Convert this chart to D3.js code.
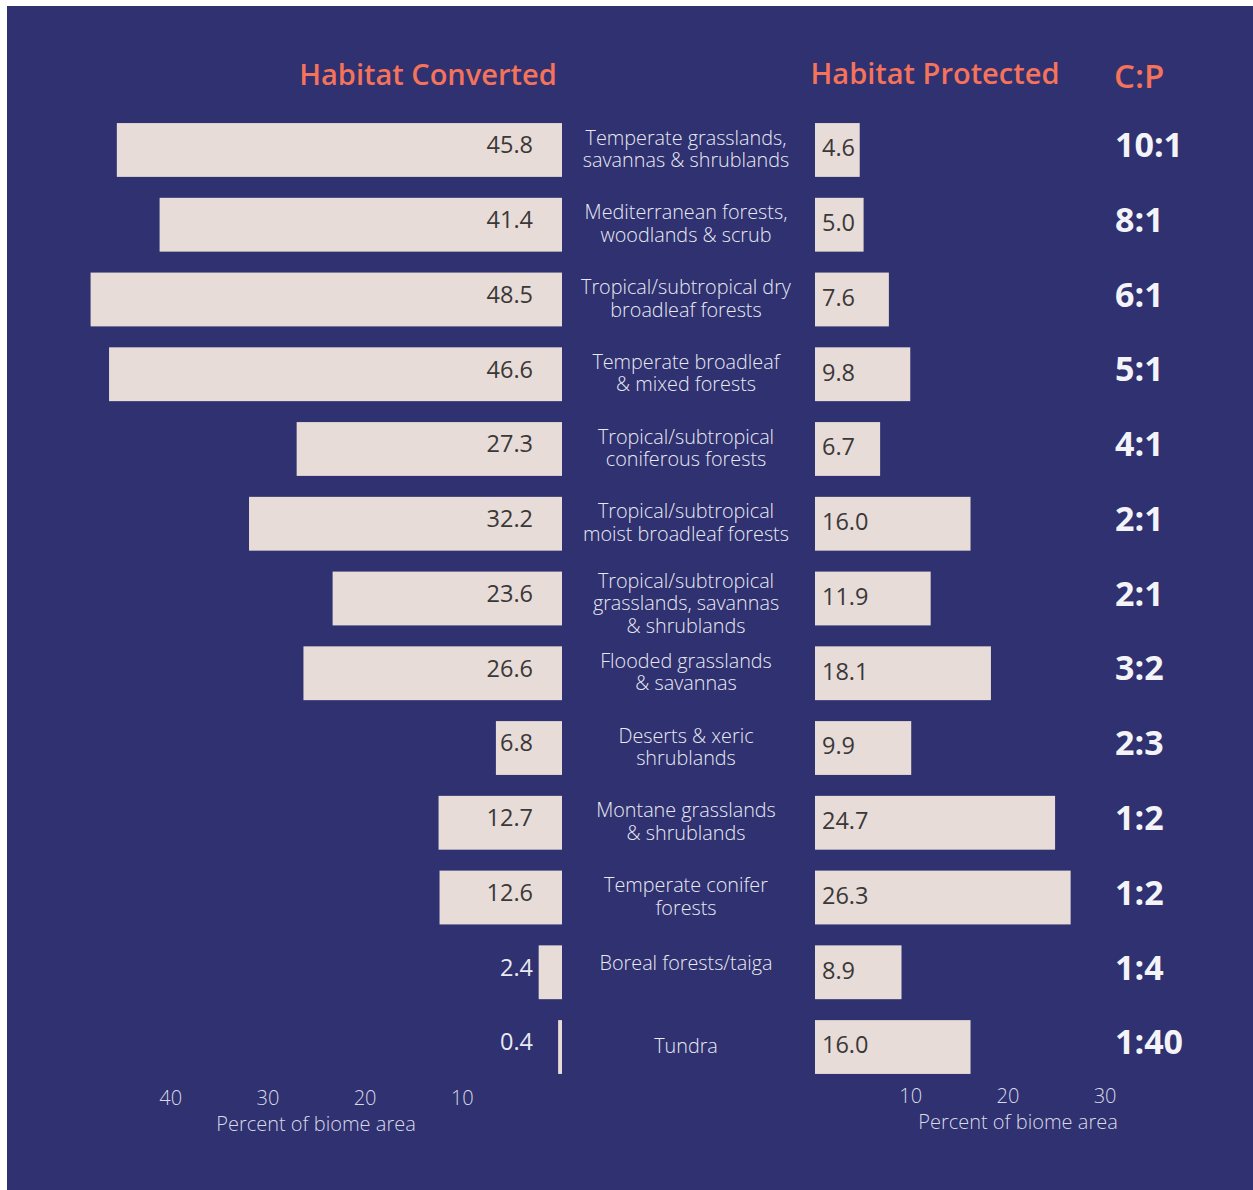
<!DOCTYPE html>
<html>
<head>
<meta charset="utf-8">
<script src="https://cdn.jsdelivr.net/npm/d3@7"></script>
<style>
  html, body { margin: 0; padding: 0; background: #ffffff; }
  svg { display: block; }
</style>
</head>
<body>
<svg id="chart" width="1253" height="1190"></svg>
<script>
// ---- data ----
const biomes = [
  ["Temperate grasslands,", "savannas & shrublands"],
  ["Mediterranean forests,", "woodlands & scrub"],
  ["Tropical/subtropical dry", "broadleaf forests"],
  ["Temperate broadleaf", "& mixed forests"],
  ["Tropical/subtropical", "coniferous forests"],
  ["Tropical/subtropical", "moist broadleaf forests"],
  ["Tropical/subtropical", "grasslands, savannas", "& shrublands"],
  ["Flooded grasslands", "& savannas"],
  ["Deserts & xeric", "shrublands"],
  ["Montane grasslands", "& shrublands"],
  ["Temperate conifer", "forests"],
  ["Boreal forests/taiga"],
  ["Tundra"]
];
const converted = [45.8, 41.4, 48.5, 46.6, 27.3, 32.2, 23.6, 26.6, 6.8, 12.7, 12.6, 2.4, 0.4];
const protectedVals = [4.6, 5.0, 7.6, 9.8, 6.7, 16.0, 11.9, 18.1, 9.9, 24.7, 26.3, 8.9, 16.0];
const ratios = ["10:1", "8:1", "6:1", "5:1", "4:1", "2:1", "2:1", "3:2", "2:3", "1:2", "1:2", "1:4", "1:40"];
const leftTicks = [40, 30, 20, 10];
const rightTicks = [10, 20, 30];
const titleConverted = "Habitat Converted";
const titleProtected = "Habitat Protected";
const titleRatio = "C:P";
const axisLabel = "Percent of biome area";

// ---- styles ----
const BG = "#2f3170";
const BAR = "#e7dcd8";
const DARK = "#3b3838";
const LIGHT = "#e9e9f2";
const TITLE = "#f4735a";
const FONT = "'Open Sans', 'DejaVu Sans', sans-serif";

const svg = d3.select("#chart");
svg.append("rect").attr("x", 7).attr("y", 6).attr("width", 1253 - 7).attr("height", 1190 - 6).attr("fill", BG);

const idx = d3.range(biomes.length);
const y = d3.scaleBand().domain(idx).range([112.6, 1084.4]).paddingInner(0.28).paddingOuter(0.14);

const leftZero = 562, rightZero = 815, pxPerUnit = 9.72;
const xL = d3.scaleLinear().domain([0, 50]).range([leftZero, leftZero - 50 * pxPerUnit]);
const xR = d3.scaleLinear().domain([0, 50]).range([rightZero, rightZero + 50 * pxPerUnit]);

// titles
svg.append("text").attr("x", 428).attr("y", 85).attr("text-anchor", "middle")
  .attr("font-family", FONT).attr("font-weight", 600).attr("font-size", 29).attr("fill", TITLE).text(titleConverted);
svg.append("text").attr("x", 935).attr("y", 84).attr("text-anchor", "middle")
  .attr("font-family", FONT).attr("font-weight", 600).attr("font-size", 29).attr("fill", TITLE).text(titleProtected);
svg.append("text").attr("x", 1114).attr("y", 88).attr("text-anchor", "start")
  .attr("font-family", FONT).attr("font-weight", 600).attr("font-size", 33).attr("fill", TITLE).text(titleRatio);

// left bars
svg.append("g").selectAll("rect").data(idx).join("rect")
  .attr("x", i => xL(converted[i]))
  .attr("y", i => y(i))
  .attr("width", i => Math.max(2.5, xL(0) - xL(converted[i])))
  .attr("height", y.bandwidth())
  .attr("fill", BAR);

// right bars
svg.append("g").selectAll("rect").data(idx).join("rect")
  .attr("x", xR(0))
  .attr("y", i => y(i))
  .attr("width", i => xR(protectedVals[i]) - xR(0))
  .attr("height", y.bandwidth())
  .attr("fill", BAR);

// left values
const lv = svg.append("g").selectAll("text").data(idx).join("text")
  .attr("x", 533)
  .attr("y", i => y(i) + y.bandwidth() / 2 - 5)
  .attr("dy", "0.36em")
  .attr("text-anchor", "end")
  .attr("font-family", FONT).attr("font-size", 23.5)
  .text(i => converted[i].toFixed(1));
lv.each(function(i) {
  const w = this.getComputedTextLength();
  const inside = xL(converted[i]) <= 533 - w;
  d3.select(this).attr("fill", inside ? DARK : LIGHT);
});

// right values
svg.append("g").selectAll("text").data(idx).join("text")
  .attr("x", 822)
  .attr("y", i => y(i) + y.bandwidth() / 2 - 2)
  .attr("dy", "0.36em")
  .attr("text-anchor", "start")
  .attr("font-family", FONT).attr("font-size", 23.5)
  .attr("fill", DARK)
  .text(i => protectedVals[i].toFixed(1));

// category labels
const lineH = 22.5;
const cat = svg.append("g").selectAll("text").data(idx).join("text")
  .attr("text-anchor", "middle")
  .attr("font-family", FONT).attr("font-weight", 300).attr("font-size", 19.8)
  .attr("fill", LIGHT);
cat.each(function(i) {
  const lines = biomes[i];
  const cy = y(i) + y.bandwidth() / 2 + (lines.length === 3 ? 5 : -1) + (lines.length === 1 && i === 11 ? -8 : 0);
  const top = cy - (lines.length - 1) * lineH / 2;
  d3.select(this).selectAll("tspan").data(lines).join("tspan")
    .attr("x", 686)
    .attr("y", (d, k) => top + k * lineH)
    .attr("dy", "0.35em")
    .text(d => d);
});

// ratios
svg.append("g").selectAll("text").data(idx).join("text")
  .attr("x", 1115)
  .attr("y", i => y(i) + y.bandwidth() / 2 - 5)
  .attr("dy", "0.36em")
  .attr("font-family", FONT).attr("font-weight", 700).attr("font-size", 34)
  .attr("fill", "#f4f4f8")
  .text(i => ratios[i]);

// axes (tick labels only, no lines)
const axisLeft = d3.axisBottom(xL).tickValues(leftTicks).tickSize(0).tickPadding(0);
const gL = svg.append("g").attr("transform", "translate(-3,1091)").call(axisLeft);
const axisRight = d3.axisBottom(xR).tickValues(rightTicks).tickSize(0).tickPadding(0);
const gR = svg.append("g").attr("transform", "translate(-2,1089)").call(axisRight);
[gL, gR].forEach(g => {
  g.select(".domain").remove();
  g.selectAll("text").attr("font-family", FONT).attr("font-weight", 300).attr("font-size", 20)
    .attr("fill", "#d9d9e8").attr("dy", "0.71em");
});

svg.append("text").attr("x", 316).attr("y", 1131).attr("text-anchor", "middle")
  .attr("font-family", FONT).attr("font-weight", 300).attr("font-size", 20).attr("fill", "#d9d9e8").text(axisLabel);
svg.append("text").attr("x", 1018).attr("y", 1129).attr("text-anchor", "middle")
  .attr("font-family", FONT).attr("font-weight", 300).attr("font-size", 20).attr("fill", "#d9d9e8").text(axisLabel);
</script>
</body>
</html>
